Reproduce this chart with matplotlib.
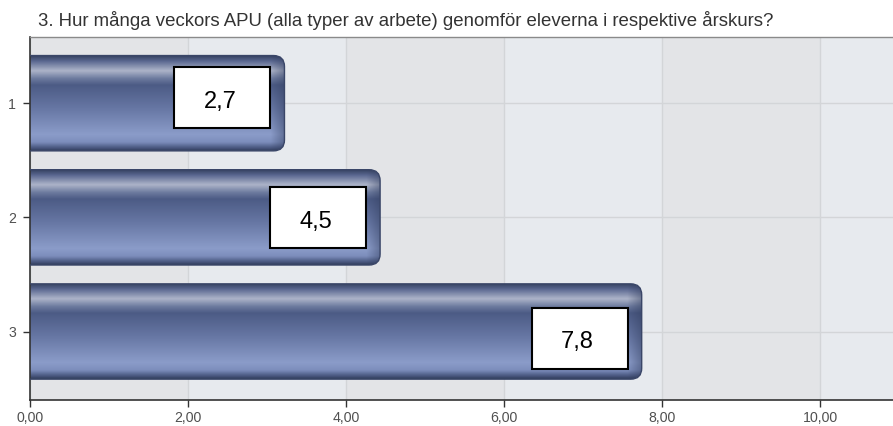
import numpy as np
import matplotlib
matplotlib.use("Agg")
import matplotlib.pyplot as plt
from matplotlib.patches import FancyBboxPatch, Rectangle
from matplotlib.colors import LinearSegmentedColormap, to_rgb
import matplotlib.transforms as mtransforms

plt.rcParams['font.family'] = ['Liberation Sans', 'DejaVu Sans']

title = "3. Hur många veckors APU (alla typer av arbete) genomför eleverna i respektive årskurs?"
categories = [1, 2, 3]
values = [3.22, 4.43, 7.74]
box_labels = ["2,7", "4,5", "7,8"]
xticks = [0, 2, 4, 6, 8, 10]
xtick_labels = ["0,00", "2,00", "4,00", "6,00", "8,00", "10,00"]

W, H = 893, 426
fig = plt.figure(figsize=(W / 100, H / 100), dpi=100)
fig.patch.set_facecolor("white")
ax = fig.add_axes([30 / W, 1 - 400 / H, 1 - 30 / W, (400 - 37) / H])
xmax = 10.92
ymin, ymax = 0.42, 3.6
ax.set_xlim(0, xmax)
ax.set_ylim(ymax, ymin)
ax.set_facecolor("#e7eaee")

# alternating background bands
for i, t in enumerate(xticks):
    if i % 2 == 0:
        ax.axvspan(t, t + 2, color="#e3e4e7", zorder=0, lw=0)

ax.grid(True, color="#d3d5d8", lw=1, zorder=0.5)
ax.set_axisbelow(True)

# gradient definition (top -> bottom)
stops = [(0.00, "#34405f"), (0.06, "#5a6790"), (0.16, "#adb4c9"),
         (0.24, "#6e7ca0"), (0.31, "#4c5b85"), (0.55, "#6676a3"),
         (0.83, "#8b9cc9"), (0.91, "#7d8ebc"), (0.97, "#4a5880"), (1.00, "#34405f")]
cmap = LinearSegmentedColormap.from_list("bar", stops)

bar_h = 0.835
px_x = (W - 30) / xmax
px_y = (400 - 37) / (ymax - ymin)
r_px = 11
for y, v in zip(categories, values):
    top = y - bar_h / 2
    patch = FancyBboxPatch((-0.5, top), v + 0.5, bar_h,
                           boxstyle=f"round,pad=0,rounding_size={r_px / px_x}",
                           mutation_aspect=px_x / px_y,
                           fc="none", ec="#3a4668", lw=1.0, zorder=3)
    ax.add_patch(patch)
    ny, nx = 200, 400
    rows = np.linspace(0, 1, ny)
    col = cmap(rows)[:, :3]
    img = np.repeat(col[:, None, :], nx, axis=1)
    xs = np.linspace(0, v, nx)
    d = (v - xs) * px_x  # distance from right end in px
    shade = np.clip(1 - d / 14, 0, 1) * 0.45
    img = img * (1 - shade[None, :, None]) + np.array(to_rgb("#2e3a5a"))[None, None, :] * shade[None, :, None]
    im = ax.imshow(img, extent=(0, v, top, top + bar_h), origin="lower",
                   aspect="auto", zorder=2, interpolation="bilinear")
    im.set_clip_path(patch)

ax.set_xlim(0, xmax)
ax.set_ylim(ymax, ymin)

# label boxes (overlay boxes have a slightly larger pitch than the bars)
bw, bh = 96 / 100, 61 / 100
for i, (y, v, lab) in enumerate(zip(categories, values, box_labels)):
    dy = -(i - 1) * 0.06 - 0.005  # inches (display up is positive)
    trans = fig.dpi_scale_trans + mtransforms.ScaledTranslation(v, y, ax.transData)
    rect = Rectangle((-0.14 - bw, -bh / 2 + dy), bw, bh, transform=trans,
                     fc="white", ec="black", lw=1.5, zorder=5, clip_on=False)
    ax.add_patch(rect)
    ax.text(-0.14 - bw / 2 - 0.02, -0.04 + dy, lab, transform=trans, ha="center", va="center",
            fontsize=17, color="black", zorder=6)

ax.set_yticks(categories)
ax.set_yticklabels([str(c) for c in categories])
ax.set_xticks(xticks)
ax.set_xticklabels(xtick_labels)
ax.tick_params(axis="both", labelsize=10.2, labelcolor="#505050", color="#333333",
               length=5, width=1, direction="out")
ax.tick_params(axis="y", pad=5)
ax.tick_params(axis="x", pad=3)
for s in ["left", "bottom"]:
    ax.spines[s].set_color("#333333")
    ax.spines[s].set_linewidth(1.2)
ax.spines["top"].set_color("#8a8a8a")
ax.spines["top"].set_linewidth(1)
ax.spines["right"].set_visible(False)

fig.text(38 / W, 1 - 20 / H, title, ha="left", va="center", fontsize=13.4, color="#333333")

fig.savefig("out.png", dpi=100)
